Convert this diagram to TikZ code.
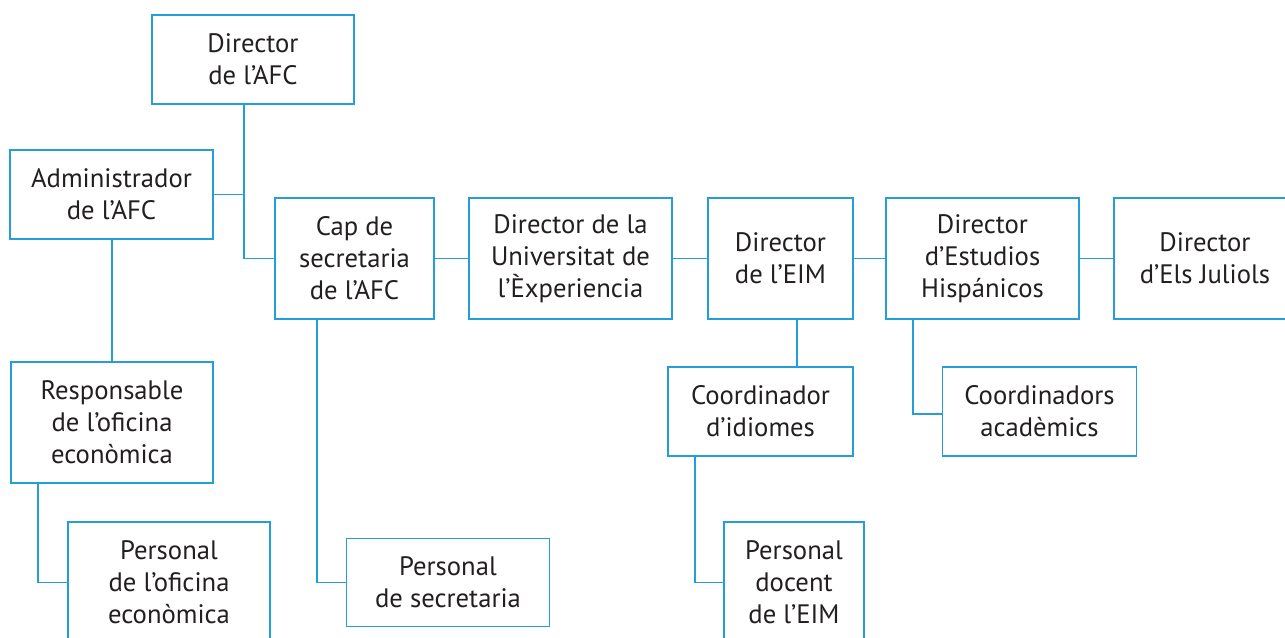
\documentclass[tikz,border=0pt]{standalone}
\usepackage{fontspec}
\setmainfont{PT Sans}
\definecolor{orgblue}{RGB}{35,158,216}
\definecolor{orgtext}{RGB}{35,31,32}
\begin{document}
\begin{tikzpicture}[x=0.75pt,y=-0.75pt,
  orgbox/.style 2 args={draw=orgblue, line width=1.3pt, fill=white, inner sep=0pt, outer sep=0pt,
    minimum width=#1*0.75pt, minimum height=#2*0.75pt, align=center, text=orgtext,
    font=\fontsize{20pt}{24pt}\selectfont},
  link/.style={draw=orgblue, line width=1.3pt}]
\useasboundingbox (0,0) rectangle (1285,637);
\fill[white] (0,0) rectangle (1285,637);

\node[orgbox={202}{89}] (dir) at (253,59.5) {Director\\de l’AFC};
\node[orgbox={203}{89}] (adm) at (111.5,194.5) {Administrador\\de l’AFC};
\node[orgbox={159}{121}] (cap) at (354.5,258.5) {Cap de\\secretaria\\de l’AFC};
\node[orgbox={203}{121}] (ue) at (570.5,258.5) {Director de la\\Universitat de\\l’Èxperiencia};
\node[orgbox={145}{121}] (eim) at (780.5,258.5) {Director\\de l’EIM};
\node[orgbox={193}{121}] (hisp) at (982.5,258.5) {Director\\d’Estudios\\Hispánicos};
\node[orgbox={182}{121}] (jul) at (1205,258.5) {Director\\d’Els Juliols};
\node[orgbox={202}{121}] (resp) at (112,422.5) {Responsable\\de l’oficina\\econòmica};
\node[orgbox={202}{121}] (pof) at (169,582.5) {Personal\\de l’oficina\\econòmica};
\node[orgbox={203}{88}] (psec) at (448,582.5) {Personal\\de secretaria};
\node[orgbox={185}{89}] (coid) at (760.5,411.5) {Coordinador\\d’idiomes};
\node[orgbox={194}{89}] (coac) at (1039.5,411.5) {Coordinadors\\acadèmics};
\node[orgbox={140}{121}] (pdoc) at (794,582.5) {Personal\\docent\\de l’EIM};

\coordinate (xdir) at (244,0);
\coordinate (xresp) at (38,0);
\coordinate (xcap) at (317,0);
\coordinate (xeim) at (797,0);
\coordinate (xcoid) at (695,0);
\coordinate (xhisp) at (913,0);
\coordinate (ycoac) at (0,414);

\draw[link] (dir.south -| xdir) |- (cap.west);
\draw[link] (adm.east) -- (adm.east -| xdir);
\draw[link] (adm.south -| resp.north) -- (resp.north);
\draw[link] (resp.south -| xresp) |- (pof.west);
\draw[link] (cap.south -| xcap) |- (psec.west);
\draw[link] (cap.east) -- (ue.west);
\draw[link] (ue.east) -- (eim.west);
\draw[link] (eim.east) -- (hisp.west);
\draw[link] (hisp.east) -- (jul.west);
\draw[link] (eim.south -| xeim) -- (xeim |- coid.north);
\draw[link] (coid.south -| xcoid) |- (pdoc.west);
\draw[link] (hisp.south -| xhisp) |- (coac.west |- ycoac);
\end{tikzpicture}
\end{document}
